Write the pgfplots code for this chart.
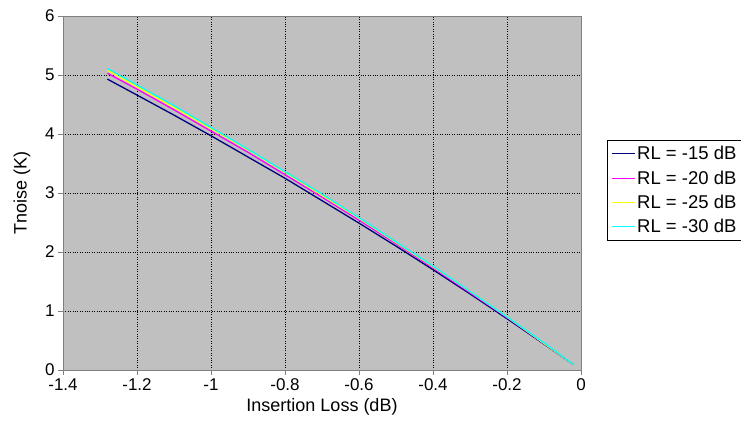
\documentclass[border=0pt]{standalone}
\usepackage{pgfplots}
\pgfplotsset{compat=1.18}
\usepackage{fontspec}
\setmainfont{Liberation Sans}
\begin{document}
\begin{tikzpicture}[x=1pt,y=1pt]
\useasboundingbox (0,0) rectangle (741,441);
\begin{axis}[
  at={(63pt,71pt)}, anchor=south west,
  scale only axis, width=518pt, height=354pt,
  xmin=-1.4, xmax=0, ymin=0, ymax=6,
  xtick={-1.4,-1.2,-1,-0.8,-0.6,-0.4,-0.2,0},
  ytick={0,1,2,3,4,5,6},
  /pgf/number format/assume math mode=true,
  tick label style={font=\fontsize{17}{19}\selectfont, text=black},
  label style={font=\fontsize{18}{20}\selectfont},
  xlabel={Insertion Loss (dB)}, ylabel={Tnoise (K)},
  xlabel style={at={(axis description cs:0.5,-0.105)}, anchor=center},
  ylabel style={at={(axis description cs:-0.079,0.5)}, anchor=center},
  axis background/.style={fill={rgb,255:red,192;green,192;blue,192}},
  grid=major, major grid style={dotted, black, line width=0.8pt},
  axis line style={draw={rgb,255:red,128;green,128;blue,128}, line width=0.8pt},
  tick style={draw={rgb,255:red,128;green,128;blue,128}, line width=0.8pt},
  tick align=outside, major tick length=5pt,
  xtick pos=bottom, ytick pos=left,
  legend style={at={(1.050,0.65)}, anchor=north west, draw=black, line width=0.6pt,
    font=\fontsize{18.5}{20}\selectfont, row sep=5.5pt, inner ysep=4pt, inner xsep=4pt,
    legend cell align=left},
  legend image post style={line width=1pt},
  legend image code/.code={\draw[#1] (0pt,0pt) -- (18pt,0pt); \path (0pt,0pt) -- (23pt,0pt);},
]
\addplot[color={rgb,255:red,0;green,0;blue,128}, line width=1.3pt] coordinates {
(-1.28,4.93) (-1.2,4.66) (-1.1,4.32) (-1.0,3.97) (-0.9,3.61) (-0.8,3.25) (-0.7,2.87)
(-0.6,2.49) (-0.5,2.10) (-0.4,1.70) (-0.3,1.29) (-0.2,0.87) (-0.1,0.44) (-0.02,0.09)};
\addlegendentry{RL = -15 dB}
\addplot[color={rgb,255:red,255;green,0;blue,255}, line width=1.3pt] coordinates {
(-1.28,5.03) (-1.2,4.76) (-1.1,4.41) (-1.0,4.05) (-0.9,3.69) (-0.8,3.31) (-0.7,2.93)
(-0.6,2.54) (-0.5,2.14) (-0.4,1.73) (-0.3,1.31) (-0.2,0.89) (-0.1,0.45) (-0.02,0.09)};
\addlegendentry{RL = -20 dB}
\addplot[color={rgb,255:red,255;green,255;blue,0}, line width=1.3pt] coordinates {
(-1.28,5.08) (-1.2,4.80) (-1.1,4.45) (-1.0,4.09) (-0.9,3.73) (-0.8,3.35) (-0.7,2.96)
(-0.6,2.57) (-0.5,2.16) (-0.4,1.75) (-0.3,1.33) (-0.2,0.90) (-0.1,0.45) (-0.02,0.09)};
\addlegendentry{RL = -25 dB}
\addplot[color={rgb,255:red,0;green,255;blue,255}, line width=1.3pt] coordinates {
(-1.28,5.11) (-1.2,4.83) (-1.1,4.48) (-1.0,4.11) (-0.9,3.74) (-0.8,3.36) (-0.7,2.98)
(-0.6,2.58) (-0.5,2.17) (-0.4,1.76) (-0.3,1.33) (-0.2,0.90) (-0.1,0.46) (-0.02,0.09)};
\addlegendentry{RL = -30 dB}
\end{axis}
\end{tikzpicture}
\end{document}
